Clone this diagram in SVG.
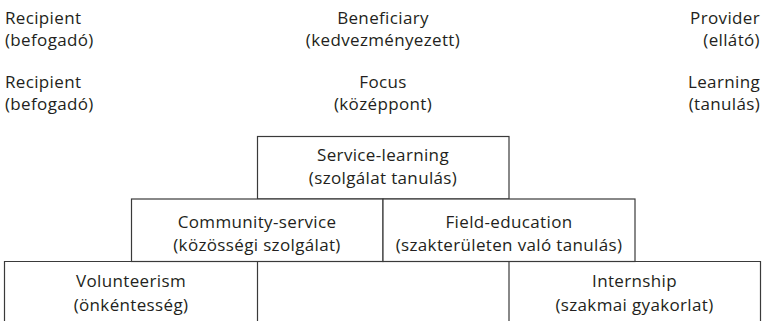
<svg xmlns="http://www.w3.org/2000/svg" width="762" height="321" viewBox="0 0 762 321">
<style>
text{font-family:"Open Sans","Liberation Sans",sans-serif;font-size:17px;letter-spacing:0.35px;fill:#231f20}
.m{text-anchor:middle}
.e{text-anchor:end}
.box{fill:#fff;stroke:#3a3a3a;stroke-width:1.2}
</style>
<rect width="762" height="321" fill="#fff"/>
<g id="labels-left">
<text x="5" y="24">Recipient</text>
<text x="5" y="46">(befogadó)</text>
<text x="5" y="88">Recipient</text>
<text x="5" y="110">(befogadó)</text>
</g>
<g id="labels-center">
<text class="m" x="383" y="24">Beneficiary</text>
<text class="m" x="383" y="46">(kedvezményezett)</text>
<text class="m" x="383" y="88">Focus</text>
<text class="m" x="383" y="110">(középpont)</text>
</g>
<g id="labels-right">
<text class="e" x="760" y="24">Provider</text>
<text class="e" x="760" y="46">(ellátó)</text>
<text class="e" x="760" y="88">Learning</text>
<text class="e" x="760" y="110">(tanulás)</text>
</g>
<g id="service-learning">
<rect class="box" x="257.5" y="136.5" width="251.5" height="62.5"/>
<text class="m" x="383" y="161">Service-learning</text>
<text class="m" x="383" y="184">(szolgálat tanulás)</text>
</g>
<g id="community-service">
<rect class="box" x="131.5" y="199" width="251.5" height="62.5"/>
<text class="m" x="257" y="227.5">Community-service</text>
<text class="m" x="257" y="250.5">(közösségi szolgálat)</text>
</g>
<g id="field-education">
<rect class="box" x="383" y="199" width="252" height="62.5"/>
<text class="m" x="509" y="227.5">Field-education</text>
<text class="m" x="509" y="250.5">(szakterületen való tanulás)</text>
</g>
<g id="bottom-row">
<path d="M4.5,325 V261.5 H760.5 V325 M257.5,261.5 V325 M509,261.5 V325" fill="none" stroke="#3a3a3a" stroke-width="1.2"/>
</g>
<g id="volunteerism">
<text class="m" x="131" y="287">Volunteerism</text>
<text class="m" x="131" y="311">(önkéntesség)</text>
</g>
<g id="internship">
<text class="m" x="634.5" y="287">Internship</text>
<text class="m" x="634.5" y="311">(szakmai gyakorlat)</text>
</g>
<g id="connectors"></g>
</svg>
